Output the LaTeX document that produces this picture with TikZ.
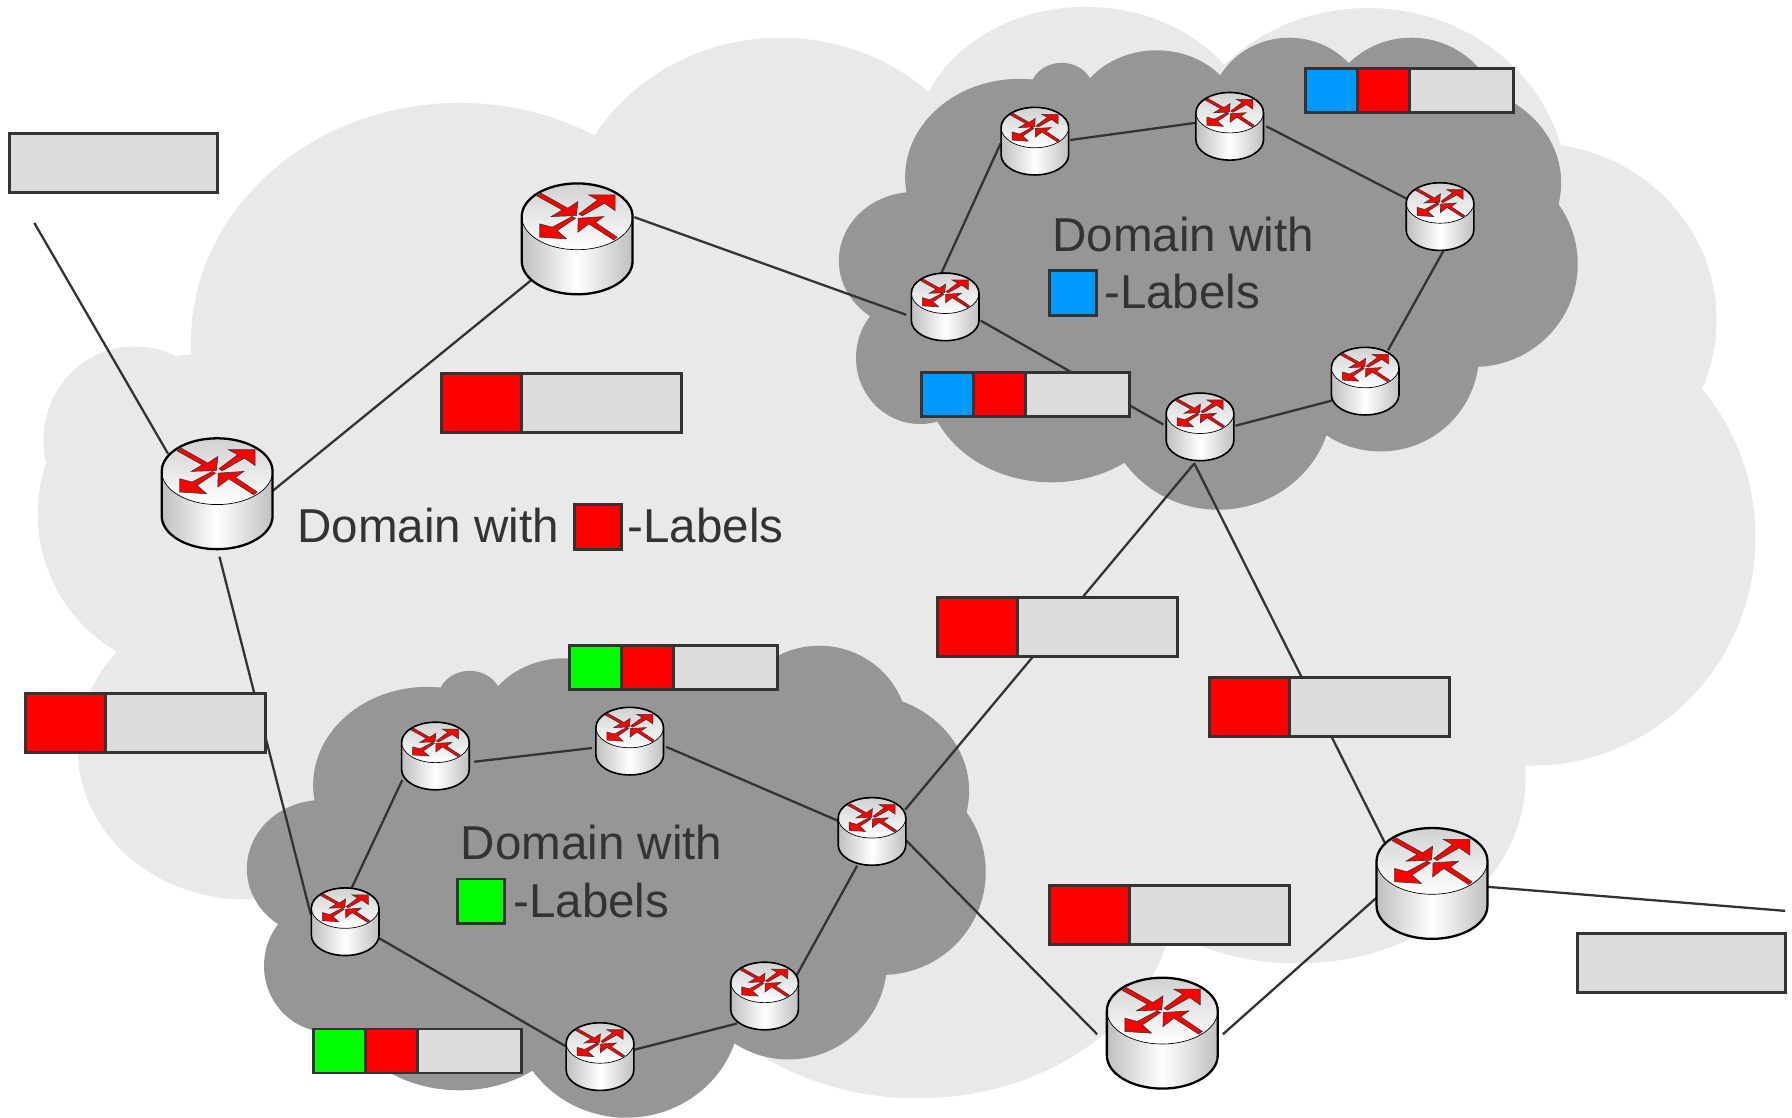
\documentclass[tikz,border=0pt]{standalone}
\usepackage{fontspec}
\setmainfont{Liberation Sans}
\usetikzlibrary{positioning}
\definecolor{cloudlight}{HTML}{E9E9E9}
\definecolor{clouddark}{HTML}{969696}
\definecolor{ink}{HTML}{333333}
\definecolor{cellgrey}{HTML}{DCDCDC}
\definecolor{labblue}{HTML}{0099FF}
\definecolor{labgreen}{HTML}{00FF00}
\definecolor{labred}{HTML}{FF0000}
\tikzset{
  link/.style={ink,line width=2pt},
  bigrouter/.style={circle,minimum size=97pt,inner sep=0pt,outer sep=0pt},
  smallrouter/.style={circle,minimum size=60pt,inner sep=0pt,outer sep=0pt},
  cell/.style={draw=ink,line width=2.4pt,inner sep=0pt,outer sep=0pt,anchor=west},
  redwide/.style={cell,fill=labred,minimum width=70pt,minimum height=51.5pt},
  greywide/.style={cell,fill=cellgrey,minimum width=140pt,minimum height=51.5pt},
  greyfull/.style={cell,fill=cellgrey,minimum width=182pt,minimum height=51.5pt},
  tiny/.style={cell,minimum width=45.5pt,minimum height=38.5pt},
  greytiny/.style={cell,fill=cellgrey,minimum width=91pt,minimum height=38.5pt},
  swatch/.style={draw=ink,line width=2.4pt,inner sep=0pt,outer sep=0pt,minimum width=41pt,minimum height=39pt},
  caption/.style={text=ink,font=\fontsize{41.6}{44}\selectfont,anchor=base west,inner sep=0pt},
  routerpic/.pic={
    \fill[left color=black!25,right color=black!25,middle color=white]
      (-48.5,-19.5) -- (-48.5,19.5) arc (180:0:48.5 and 29) -- (48.5,-19.5) -- cycle;
    \draw[black,line width=.6pt,top color=black!18,bottom color=white]
      (0,-19.5) ellipse (48.5 and 29);
    \draw[black,line width=\routerlw]
      (-48.5,-19.5) -- (-48.5,19.5) arc (180:0:48.5 and 29) -- (48.5,-19.5) arc (0:-180:48.5 and 29) -- cycle;
    \draw[ink,line width=.5pt,fill=labred,shift={(0,-19.5)}]
      (-35,-18) -- (-31.5,-20.4) -- (-8.2,-7.3) -- (.6,-13.1) -- (-.6,-.9) -- (-22.7,0) -- (-13,-5.8) -- cycle
      (1.5,-2.3) -- (4.4,-.6) -- (23.9,-11.7) -- (33.2,-5.2) -- (33.2,-19) -- (10,-19) -- (18,-14.6) -- cycle
      (-1.5,1.5) -- (-4.4,0) -- (-21.9,9.3) -- (-32.7,6.4) -- (-32.7,18) -- (-9.3,19.5) -- (-17.5,12.2) -- cycle
      (35,18) -- (32,20.4) -- (10.2,6.4) -- (.6,13.7) -- (.9,1.5) -- (23.3,0) -- (16,5.2) -- cycle;
  },
  darkcloud/.pic={
    \fill[clouddark] (929,80) ellipse (28 and 25) (1012,110) ellipse (75 and 66)
      (1128,100) ellipse (70 and 67) (1235,110) ellipse (78 and 77)
      (1270,160) ellipse (96 and 85) (1290,231) ellipse (90.5 and 90)
      (1208,310) ellipse (86 and 85) (1066,350) ellipse (100 and 96)
      (920,330) ellipse (110 and 92) (805,313) ellipse (56 and 58)
      (800,228) ellipse (66 and 60) (892,155) ellipse (100 and 86)
      (1040,230) ellipse (240 and 150);
  },
}
\newcommand{\routerlw}{2pt}
\begin{document}
\begin{tikzpicture}[x=1pt,y=-1pt]
  \clip (0,0) rectangle (1568,978);
  % background cloud
  \fill[cloudlight] (402,300) ellipse (235 and 210) (118,385) ellipse (80 and 82)
    (683,210) ellipse (190 and 177) (950,130) ellipse (150 and 124)
    (1197,170) ellipse (175 and 163) (1340,280) ellipse (162 and 155)
    (1340,470) ellipse (196 and 200) (1135,680) ellipse (200 and 163)
    (803,780) ellipse (225 and 181) (215,655) ellipse (147 and 132)
    (175,450) ellipse (142 and 140) (700,500) ellipse (500 and 300)
    (1000,650) ellipse (150 and 170);
  \pic at (0,0) {darkcloud};
  \pic at (-518,532) {darkcloud};
  % routers
  \foreach \name/\x/\y in {ra/505/209,rb/190/432,rc/1017/904,rd/1253/773}
    \node[bigrouter] (\name) at (\x,\y) {};
  \foreach \name/\x/\y in {ua/905.5/123.5,ub/1076/110.5,uc/1260/189.5,ud/827/268.5,ue/1194.5/333.5,uf/1050/373.5,
    la/381/661.5,lb/551/648.5,lc/763/727.5,ld/302/806.5,le/669/871.5,lf/525/924.5}
    \node[smallrouter] (\name) at (\x,\y) {};
  \coordinate (inend) at (30,195);
  \coordinate (outend) at (1562,797);
  % links
  \draw[link] (inend) -- ([shift={(-43,-35)}]rb.center);
  \draw[link] ([shift={(48,-2)}]rb.center) -- ([shift={(-40,36)}]ra.center);
  \draw[link] ([shift={(50,-19)}]ra.center) -- ([shift={(-34,7)}]ud.center);
  \draw[link] ([shift={(2,55)}]rb.center) -- ([shift={(-30,-6)}]ld.center);
  \draw[link] ([shift={(-4,-28)}]ud.center) -- ([shift={(-30,2)}]ua.center);
  \draw[link] ([shift={(31,-1)}]ua.center) -- ([shift={(-30,-3)}]ub.center);
  \draw[link] ([shift={(32,0)}]ub.center) -- ([shift={(-28,-15)}]uc.center);
  \draw[link] ([shift={(3,30)}]uc.center) -- ([shift={(20,-27)}]ue.center);
  \draw[link] ([shift={(-29,17)}]ue.center) -- ([shift={(31,-1)}]uf.center);
  \draw[link] ([shift={(31,12)}]ud.center) -- ([shift={(-32,-2)}]uf.center);
  \draw[link] ([shift={(-5,32)}]uf.center) -- ([shift={(29,-19)}]lc.center);
  \draw[link] ([shift={(-5,32)}]uf.center) -- ([shift={(-41,-35)}]rd.center);
  \draw[link] ([shift={(30,8)}]lc.center) -- ([shift={(-57,1)}]rc.center);
  \draw[link] ([shift={(53,1)}]rc.center) -- ([shift={(-48,12)}]rd.center);
  \draw[link] ([shift={(49,3)}]rd.center) -- (outend);
  \draw[link] ([shift={(34,5)}]la.center) -- ([shift={(-33,6)}]lb.center);
  \draw[link] ([shift={(32,5)}]lb.center) -- ([shift={(-29,-9)}]lc.center);
  \draw[link] ([shift={(-13,30)}]lc.center) -- ([shift={(28,-18)}]le.center);
  \draw[link] ([shift={(-24,24)}]le.center) -- ([shift={(30,-6)}]lf.center);
  \draw[link] ([shift={(5,-28)}]ld.center) -- ([shift={(-29,21)}]la.center);
  \draw[link] ([shift={(29,14)}]ld.center) -- ([shift={(-30,-9)}]lf.center);
  % router bodies
  \foreach \name in {ra,rb,rc,rd}
    \pic at (\name.center) {routerpic};
  \renewcommand{\routerlw}{1.4pt}
  \foreach \name in {ua,ub,uc,ud,ue,uf,la,lb,lc,ld,le,lf}
    \pic[scale=.61] at (\name.center) {routerpic};
  % label stacks
  \node[greyfull] (topleftcell) at (8,142.5) {};
  \node[greyfull] (botrightcell) at (1380,842.5) {};
  \node[redwide] (lab1red) at (386,352.5) {};
  \node[greywide] (lab1grey) at (lab1red.east) {};
  \node[redwide] (lab2red) at (22,632.5) {};
  \node[greywide] (lab2grey) at (lab2red.east) {};
  \node[redwide] (lab3red) at (820,548.5) {};
  \node[greywide] (lab3grey) at (lab3red.east) {};
  \node[redwide] (lab4red) at (1058,618.5) {};
  \node[greywide] (lab4grey) at (lab4red.east) {};
  \node[redwide] (lab5red) at (918,800.5) {};
  \node[greywide] (lab5grey) at (lab5red.east) {};
  \node[tiny,fill=labblue] (up1blue) at (806,345.5) {};
  \node[tiny,fill=labred] (up1red) at (up1blue.east) {};
  \node[greytiny] (up1grey) at (up1red.east) {};
  \node[tiny,fill=labblue] (up2blue) at (1142,79.5) {};
  \node[tiny,fill=labred] (up2red) at (up2blue.east) {};
  \node[greytiny] (up2grey) at (up2red.east) {};
  \node[tiny,fill=labgreen] (lo1green) at (498,584) {};
  \node[tiny,fill=labred] (lo1red) at (lo1green.east) {};
  \node[greytiny] (lo1grey) at (lo1red.east) {};
  \node[tiny,fill=labgreen] (lo2green) at (274,919.5) {};
  \node[tiny,fill=labred] (lo2red) at (lo2green.east) {};
  \node[greytiny] (lo2grey) at (lo2red.east) {};
  % captions
  \node[caption] (capred) at (260,475) {Domain with};
  \node[swatch,fill=labred] (swred) at (523,461) {};
  \node[caption] (capredb) at (549,475) {-Labels};
  \node[caption] (capblue) at (920.5,220) {Domain with};
  \node[swatch,fill=labblue] (swblue) at (939,256.5) {};
  \node[caption] (capblueb) at (966,270) {-Labels};
  \node[caption] (capgreen) at (403,752) {Domain with};
  \node[swatch,fill=labgreen] (swgreen) at (421,788.5) {};
  \node[caption] (capgreenb) at (449,803) {-Labels};
\end{tikzpicture}
\end{document}
